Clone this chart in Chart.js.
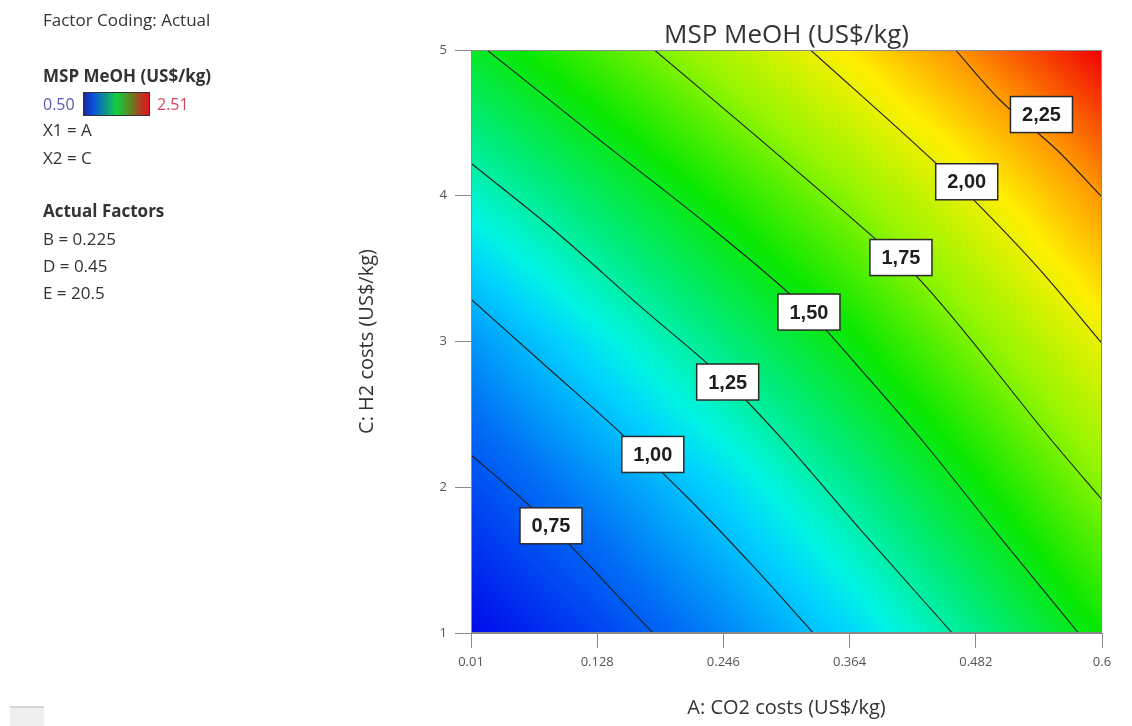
<!DOCTYPE html>
<html>
<head>
<meta charset="utf-8">
<script src="https://cdn.jsdelivr.net/npm/chart.js@4.4.1/dist/chart.umd.min.js"></script>
<style>
  html, body { margin: 0; padding: 0; background: #fff; }
  body { width: 1132px; height: 726px; position: relative; overflow: hidden; font-family: "Open Sans", sans-serif; color: #333; }
  #chart { position: absolute; left: 0; top: 0; }
  .side { position: absolute; left: 43px; font-size: 17px; line-height: 20px; white-space: nowrap; }
  .side.bold { font-weight: 700; }
  .side.small { font-size: 16px; }
  .bar { position: absolute; left: 83px; top: 92px; width: 65px; height: 22px; border: 1px solid #333;
    background: linear-gradient(to right, #1a2a9a 0%, #0a50e0 14%, #10d040 50%, #6a7a20 74%, #c03020 90%, #e01818 100%); }
  .corner { position: absolute; left: 10px; top: 706px; width: 34px; height: 20px; background: #efefef; border-top: 2px solid #d6d6d6; }
</style>
</head>
<body>
<canvas id="chart" width="1132" height="726"></canvas>
<div class="side" style="top:10px">Factor Coding: Actual</div>
<div class="side bold" style="top:66px">MSP MeOH (US$/kg)</div>
<div class="side small" style="top:94px;color:#5a5ab8">0.50</div>
<div class="bar"></div>
<div class="side small" style="top:94px;left:157px;color:#d24a5a">2.51</div>
<div class="side" style="top:120px">X1 = A</div>
<div class="side" style="top:148px">X2 = C</div>
<div class="side bold" style="top:201px">Actual Factors</div>
<div class="side" style="top:229px">B = 0.225</div>
<div class="side" style="top:256px">D = 0.45</div>
<div class="side" style="top:283px">E = 20.5</div>
<div class="corner"></div>
<script>
"use strict";

const X_TICKS = [0.01, 0.128, 0.246, 0.364, 0.482, 0.6];
const X_TICK_LABELS = ["0.01", "0.128", "0.246", "0.364", "0.482", "0.6"];
const Y_TICKS = [1, 2, 3, 4, 5];

// MSP at the tick grid (one row per C tick, columns = A ticks)
const MSP_C1 = [0.50, 0.67, 0.86, 1.065, 1.297, 1.55];
const MSP_C2 = [0.695, 0.876, 1.068, 1.288, 1.525, 1.775];
const MSP_C3 = [0.90, 1.114, 1.322, 1.528, 1.762, 2.00];
const MSP_C4 = [1.19, 1.38, 1.58, 1.78, 2.00, 2.25];
const MSP_C5 = [1.475, 1.663, 1.86, 2.067, 2.29, 2.51];
const MSP_MIN = 0.50;
const MSP_MAX = 2.51;

const LEVELS = ["0,75", "1,00", "1,25", "1,50", "1,75", "2,00", "2,25"];

// contour lines, A (x) and C (y) pairs
const LINE_075_A = [0.01, 0.0483, 0.0848, 0.1334, 0.180];
const LINE_075_C = [2.221, 1.981, 1.7355, 1.3636, 1.0];
const LINE_100_A = [0.01, 0.081, 0.152, 0.2148, 0.2727, 0.330];
const LINE_100_C = [3.29, 2.825, 2.358, 1.9125, 1.4666, 1.0];
const LINE_125_A = [0.01, 0.0875, 0.168, 0.250, 0.3017, 0.3793, 0.460];
const LINE_125_C = [4.223, 3.765, 3.243, 2.722, 2.324, 1.666, 1.0];
const LINE_150_A = [0.025, 0.1316, 0.2372, 0.326, 0.383, 0.434, 0.5036, 0.578];
const LINE_150_C = [5.0, 4.375, 3.765, 3.202, 2.736, 2.302, 1.666, 1.0];
const LINE_175_A = [0.1815, 0.2808, 0.3797, 0.4256, 0.5551, 0.6];
const LINE_175_C = [5.0, 4.383, 3.757, 3.456, 2.302, 1.915];
const LINE_200_A = [0.3275, 0.4444, 0.480, 0.542, 0.6];
const LINE_200_C = [5.0, 4.225, 3.971, 3.491, 2.987];
const LINE_225_A = [0.463, 0.5046, 0.5579, 0.6];
const LINE_225_C = [5.0, 4.657, 4.314, 3.991];

// where each level's label box sits
const LABEL_A = [0.0848, 0.180, 0.250, 0.326, 0.412, 0.4735, 0.5434];
const LABEL_C = [1.7355, 2.225, 2.722, 3.202, 3.576, 4.096, 4.557];

const CONTOUR_A = [LINE_075_A, LINE_100_A, LINE_125_A, LINE_150_A, LINE_175_A, LINE_200_A, LINE_225_A];
const CONTOUR_C = [LINE_075_C, LINE_100_C, LINE_125_C, LINE_150_C, LINE_175_C, LINE_200_C, LINE_225_C];
const MSP_ROWS = [MSP_C1, MSP_C2, MSP_C3, MSP_C4, MSP_C5];

// rainbow map used for the shading
const RAMP = [
  [0.00, [0, 10, 235]],
  [0.15, [0, 110, 245]],
  [0.274, [0, 210, 255]],
  [0.323, [0, 245, 225]],
  [0.423, [0, 235, 110]],
  [0.522, [10, 232, 0]],
  [0.647, [150, 245, 0]],
  [0.771, [255, 240, 0]],
  [0.871, [255, 150, 0]],
  [1.00, [240, 0, 0]]
];

function colorFor(v) {
  const t = Math.min(1, Math.max(0, (v - MSP_MIN) / (MSP_MAX - MSP_MIN)));
  for (let i = 1; i < RAMP.length; i++) {
    if (t <= RAMP[i][0]) {
      const [t0, c0] = RAMP[i - 1];
      const [t1, c1] = RAMP[i];
      const f = (t - t0) / (t1 - t0);
      return [0, 1, 2].map((k) => Math.round(c0[k] + (c1[k] - c0[k]) * f));
    }
  }
  return RAMP[RAMP.length - 1][1];
}

function findCell(arr, v) {
  let i = 0;
  while (i < arr.length - 2 && v > arr[i + 1]) i++;
  const f = Math.min(1, Math.max(0, (v - arr[i]) / (arr[i + 1] - arr[i])));
  return [i, f];
}

function mspAt(a, c) {
  const [i, fx] = findCell(X_TICKS, a);
  const [j, fy] = findCell(Y_TICKS, c);
  const r0 = MSP_ROWS[j];
  const r1 = MSP_ROWS[j + 1];
  const lo = r0[i] + (r0[i + 1] - r0[i]) * fx;
  const hi = r1[i] + (r1[i + 1] - r1[i]) * fx;
  return lo + (hi - lo) * fy;
}

const heatmapPlugin = {
  id: "heatmap",
  beforeDatasetsDraw(chart) {
    const { ctx, chartArea, scales } = chart;
    const left = Math.round(chartArea.left);
    const top = Math.round(chartArea.top);
    const w = Math.round(chartArea.right) - left;
    const h = Math.round(chartArea.bottom) - top;
    const off = document.createElement("canvas");
    off.width = w;
    off.height = h;
    const octx = off.getContext("2d");
    const img = octx.createImageData(w, h);
    for (let j = 0; j < h; j++) {
      const c = scales.y.getValueForPixel(top + j + 0.5);
      for (let i = 0; i < w; i++) {
        const a = scales.x.getValueForPixel(left + i + 0.5);
        const rgb = colorFor(mspAt(a, c));
        const k = (j * w + i) * 4;
        img.data[k] = rgb[0];
        img.data[k + 1] = rgb[1];
        img.data[k + 2] = rgb[2];
        img.data[k + 3] = 255;
      }
    }
    octx.putImageData(img, 0, 0);
    ctx.drawImage(off, left, top);
  }
};

const labelPlugin = {
  id: "contourLabels",
  afterDatasetsDraw(chart) {
    const { ctx, chartArea, scales } = chart;
    ctx.save();
    ctx.strokeStyle = "#8a8a8a";
    ctx.lineWidth = 1;
    ctx.strokeRect(chartArea.left + 0.5, chartArea.top + 0.5,
      chartArea.right - chartArea.left - 1, chartArea.bottom - chartArea.top - 1);

    ctx.font = "bold 20px 'Liberation Sans', Arial, sans-serif";
    ctx.textAlign = "center";
    ctx.textBaseline = "middle";
    LEVELS.forEach((text, i) => {
      const px = scales.x.getPixelForValue(LABEL_A[i]);
      const py = scales.y.getPixelForValue(LABEL_C[i]);
      const bw = 62;
      const bh = 36;
      ctx.fillStyle = "#ffffff";
      ctx.fillRect(px - bw / 2, py - bh / 2, bw, bh);
      ctx.strokeStyle = "#2a2a2a";
      ctx.lineWidth = 1.5;
      ctx.strokeRect(px - bw / 2, py - bh / 2, bw, bh);
      ctx.fillStyle = "#1e1e1e";
      ctx.fillText(text, px, py + 1);
    });
    ctx.restore();
  }
};

const plotTitlePlugin = {
  id: "plotTitle",
  afterDraw(chart) {
    const { ctx, chartArea } = chart;
    ctx.save();
    ctx.font = "26px 'Open Sans', sans-serif";
    ctx.fillStyle = "#333";
    ctx.textAlign = "center";
    ctx.textBaseline = "alphabetic";
    ctx.fillText("MSP MeOH (US$/kg)", (chartArea.left + chartArea.right) / 2, 43);
    ctx.restore();
  }
};

window.addEventListener("DOMContentLoaded", () => {
  const datasets = LEVELS.map((lvl, i) => ({
    label: lvl,
    data: CONTOUR_A[i].map((a, k) => ({ x: a, y: CONTOUR_C[i][k] })),
    showLine: true,
    borderColor: "#1e1e1e",
    borderWidth: 1.1,
    pointRadius: 0,
    cubicInterpolationMode: "monotone",
    fill: false
  }));

  const tickFont = { family: "'Open Sans', sans-serif", size: 13 };
  const titleFont = { family: "'Open Sans', sans-serif", size: 20 };

  new Chart(document.getElementById("chart"), {
    type: "scatter",
    data: { datasets },
    plugins: [heatmapPlugin, labelPlugin, plotTitlePlugin],
    options: {
      responsive: false,
      animation: false,
      events: [],
      layout: { padding: { left: 340, right: 30, top: 50, bottom: 0 } },
      plugins: {
        legend: { display: false },
        title: { display: false },
        tooltip: { enabled: false }
      },
      scales: {
        x: {
          type: "linear",
          min: 0.01,
          max: 0.6,
          afterBuildTicks: (axis) => { axis.ticks = X_TICKS.map((v) => ({ value: v })); },
          afterFit: (axis) => { axis.height = 93; },
          ticks: {
            color: "#555",
            font: tickFont,
            padding: 6,
            maxRotation: 0,
            autoSkip: false,
            callback: (val, i) => X_TICK_LABELS[i]
          },
          grid: { drawOnChartArea: false, drawTicks: true, tickLength: 15, color: "#8a8a8a" },
          border: { display: true, color: "#8a8a8a" },
          title: {
            display: true,
            text: "A: CO2 costs (US$/kg)",
            color: "#333",
            font: titleFont,
            padding: { top: 0, bottom: 6 }
          }
        },
        y: {
          type: "linear",
          min: 1,
          max: 5,
          afterBuildTicks: (axis) => { axis.ticks = Y_TICKS.map((v) => ({ value: v })); },
          afterFit: (axis) => { axis.width = 131; },
          ticks: {
            color: "#555",
            font: tickFont,
            padding: 8,
            autoSkip: false,
            callback: (val) => String(val)
          },
          grid: { drawOnChartArea: false, drawTicks: true, tickLength: 16, color: "#8a8a8a" },
          border: { display: true, color: "#8a8a8a" },
          title: {
            display: true,
            text: "C: H2 costs (US$/kg)",
            color: "#333",
            font: titleFont,
            padding: { top: 15, bottom: 0 }
          }
        }
      }
    }
  });
});
</script>
</body>
</html>
